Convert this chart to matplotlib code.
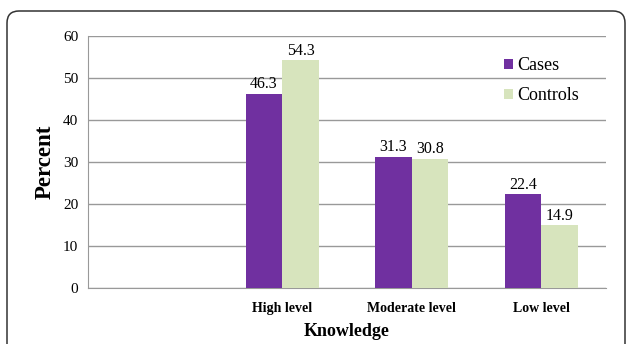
import numpy as np
import matplotlib.pyplot as plt
from matplotlib.patches import FancyBboxPatch

plt.rcParams['font.family'] = ['Liberation Serif', 'DejaVu Serif']

categories = ['', 'High level', 'Moderate level', 'Low level']
cases = [np.nan, 46.3, 31.3, 22.4]
controls = [np.nan, 54.3, 30.8, 14.9]

purple = '#7030A0'
green = '#D7E4BD'

fig = plt.figure(figsize=(6.27, 3.44), dpi=100)

# rounded outer frame (inches), running off the bottom edge
frame = FancyBboxPatch((0.07, -0.5), 6.18, 3.83,
                       boxstyle='round,pad=0,rounding_size=0.12',
                       transform=fig.dpi_scale_trans, fill=False,
                       edgecolor='#333333', linewidth=1.1)
fig.patches.append(frame)

ax = fig.add_axes([88 / 627, 1 - 288 / 344, 518 / 627, 252 / 344])

x = np.arange(len(categories))
w = 0.283
b1 = ax.bar(x - w / 2, cases, w, color=purple, label='Cases', zorder=3)
b2 = ax.bar(x + w / 2, controls, w, color=green, label='Controls', zorder=3)

for bars, vals in ((b1, cases), (b2, controls)):
    for r, v in zip(bars, vals):
        if np.isnan(v):
            continue
        ax.text(r.get_x() + r.get_width() / 2, v + 0.3, f'{v:.1f}',
                ha='center', va='bottom', fontsize=11.5)

ax.set_xlim(-0.5, len(categories) - 0.5)
ax.set_ylim(0, 60)
ax.set_yticks(range(0, 61, 10))
ax.yaxis.grid(True, color='#999999', linewidth=1, zorder=0)
ax.set_axisbelow(True)

for s in ('top', 'right'):
    ax.spines[s].set_visible(False)
ax.spines['left'].set_color('#999999')
ax.spines['bottom'].set_color('#999999')
ax.tick_params(axis='both', length=0, labelsize=11, pad=7)
ax.set_xticks(x)
ax.set_xticklabels(categories, fontweight='bold', fontsize=10)
ax.tick_params(axis='x', pad=10)

ax.set_ylabel('Percent', fontweight='bold', fontsize=16.5)
ax.yaxis.set_label_coords(-0.063, 0.5)
ax.set_xlabel('Knowledge', fontweight='bold', fontsize=13, labelpad=6)

ax.legend(loc='upper left', bbox_to_anchor=(0.803, 0.915), frameon=False,
          borderpad=0, borderaxespad=0,
          fontsize=13, handlelength=0.5, handleheight=0.5, handletextpad=0.25,
          labelspacing=0.72)

fig.savefig('out.png', dpi=100)
